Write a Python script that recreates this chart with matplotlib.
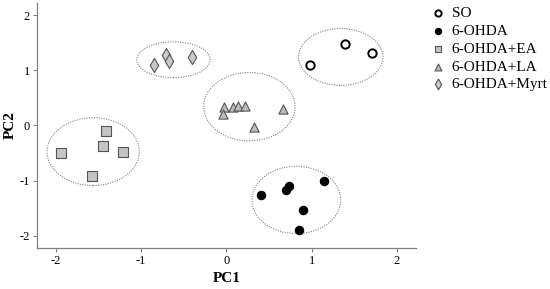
import numpy as np
import matplotlib
matplotlib.use("Agg")
import matplotlib.pyplot as plt
from matplotlib.patches import Ellipse

plt.rcParams['font.family'] = ['Liberation Serif', 'DejaVu Serif']

# PCA scores
so_x = [0.98, 1.39, 1.71]
so_y = [1.10, 1.48, 1.31]
ohda_x = [0.41, 0.70, 0.73, 1.14, 0.90, 0.85]
ohda_y = [-1.26, -1.17, -1.09, -1.01, -1.54, -1.90]
ea_x = [-1.94, -1.41, -1.45, -1.21, -1.57]
ea_y = [-0.50, -0.11, -0.38, -0.48, -0.92]
la_x = [-0.03, -0.04, 0.08, 0.14, 0.22, 0.66, 0.32]
la_y = [0.33, 0.20, 0.33, 0.36, 0.35, 0.30, -0.03]
myrt_x = [-0.85, -0.71, -0.67, -0.40]
myrt_y = [1.09, 1.27, 1.17, 1.24]

labels = ["SO", "6-OHDA", "6-OHDA+EA", "6-OHDA+LA", "6-OHDA+Myrt"]

# group ellipses: centre x, centre y, width, height
ell_cx = [1.34, 0.82, -1.56, 0.27, -0.62]
ell_cy = [1.24, -1.35, -0.475, 0.34, 1.19]
ell_w = [0.99, 1.04, 1.08, 1.07, 0.86]
ell_h = [1.03, 1.22, 1.23, 1.24, 0.65]

fig = plt.figure(figsize=(5.5, 2.89), dpi=100)
ax = fig.add_axes([0.067, 0.142, 0.689, 0.848])

for cx, cy, w, h in zip(ell_cx, ell_cy, ell_w, ell_h):
    ax.add_patch(Ellipse((cx, cy), w, h, fill=False, edgecolor="#808080",
                         linestyle=(0, (1, 1.2)), linewidth=0.8))

ax.scatter(so_x, so_y, s=36, marker="o", facecolor="white", edgecolor="black",
           linewidth=1.4, label=labels[0], zorder=3)
ax.scatter(ohda_x, ohda_y, s=36, marker="o", facecolor="black", edgecolor="black",
           linewidth=0.8, label=labels[1], zorder=3)
ax.scatter(ea_x, ea_y, s=42, marker="s", facecolor="#c4c4c4", edgecolor="#555555",
           linewidth=0.8, label=labels[2], zorder=3)
ax.scatter(la_x, la_y, s=44, marker="^", facecolor="#bdbdbd", edgecolor="#555555",
           linewidth=0.8, label=labels[3], zorder=3)
ax.scatter(myrt_x, myrt_y, s=52, marker="d", facecolor="#c8c8c8", edgecolor="#555555",
           linewidth=0.8, label=labels[4], zorder=3)

ax.set_xlim(-2.22, 2.22)
ax.set_ylim(-2.22, 2.22)
ax.set_xticks([-2, -1, 0, 1, 2])
ax.set_yticks([-2, -1, 0, 1, 2])
ax.set_xticklabels(["-2", "-1", "0", "1", "2"])
ax.set_yticklabels(["-2", "-1", "0", "1", "2"])
for axis in ['top', 'right']:
    ax.spines[axis].set_visible(False)
for axis in ['bottom', 'left']:
    ax.spines[axis].set_color("#808080")
    ax.spines[axis].set_linewidth(0.9)
ax.tick_params(length=3, width=0.8, color="#808080", labelsize=9, pad=2)
ax.set_xlabel("PC1", fontsize=11, fontweight="bold", labelpad=4)
ax.set_ylabel("PC2", fontsize=11, fontweight="bold", labelpad=2)

fig.legend(loc="upper left", bbox_to_anchor=(0.785, 0.978), frameon=False,
           fontsize=11, labelspacing=0.27, handlelength=0.8, handletextpad=0.5,
           borderpad=0, borderaxespad=0, markerscale=0.75)

plt.savefig("out.png", dpi=100)
